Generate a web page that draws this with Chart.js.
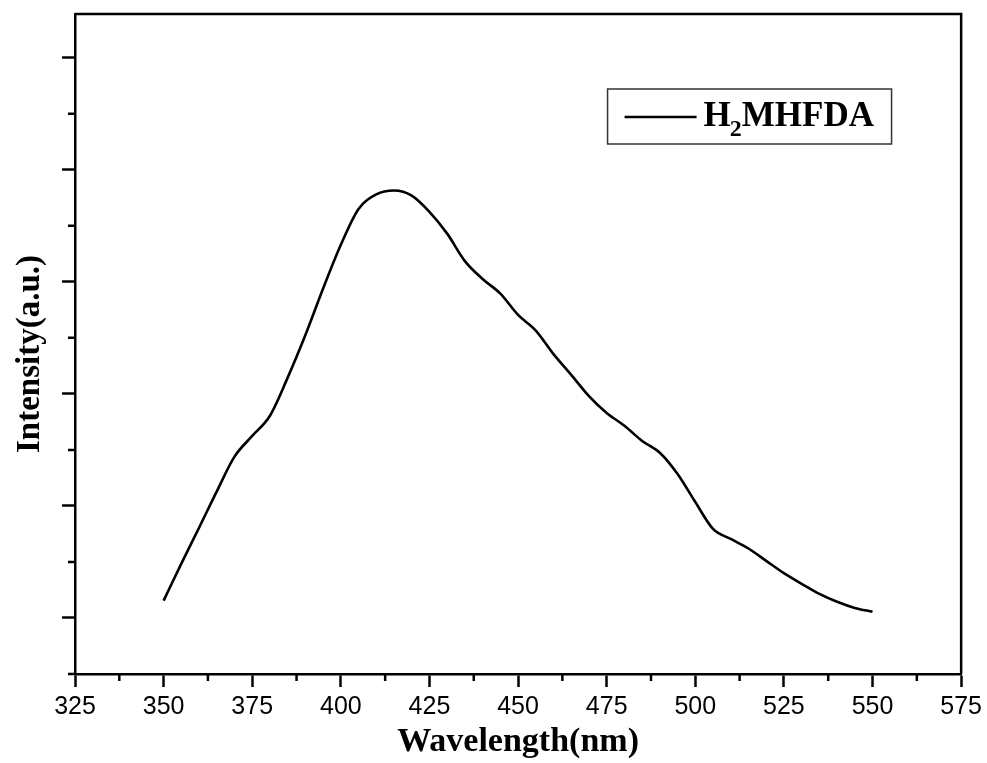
<!DOCTYPE html>
<html>
<head>
<meta charset="utf-8">
<script src="https://cdn.jsdelivr.net/npm/chart.js@4"></script>
<style>
  html, body { margin: 0; padding: 0; background: #fff; }
  #wrap { width: 987px; height: 763px; }
</style>
</head>
<body>
<div id="wrap"><canvas id="spectrum"></canvas></div>
<script>
// Dados do espectro
const wavelengths = [350, 355, 360, 365, 370, 375, 380, 385, 390, 395,
                     400, 405, 410, 415, 420, 425, 430, 435, 440, 445,
                     450, 455, 460, 465, 470, 475, 480, 485, 490, 495,
                     500, 505, 510, 515, 520, 525, 530, 535, 540, 545, 550];
const intensity = [1.31, 1.97, 2.61, 3.26, 3.88, 4.25, 4.61, 5.29, 6.05, 6.88,
                   7.66, 8.30, 8.56, 8.63, 8.54, 8.25, 7.86, 7.37, 7.05, 6.79,
                   6.41, 6.13, 5.71, 5.34, 4.96, 4.66, 4.43, 4.16, 3.95, 3.57,
                   3.07, 2.59, 2.41, 2.24, 2.02, 1.80, 1.61, 1.43, 1.29, 1.18, 1.11];
const xTickValues = [325, 350, 375, 400, 425, 450, 475, 500, 525, 550, 575];
const xMinorValues = [337.5, 362.5, 387.5, 412.5, 437.5, 462.5, 487.5, 512.5, 537.5, 562.5];
const yTickValues = [1, 3, 5, 7, 9, 11];
const yMinorValues = [0, 2, 4, 6, 8, 10];
const seriesName = { main: 'H', sub: '2', rest: 'MHFDA' };

const serif = '"Liberation Serif", "Times New Roman", serif';
const sans = '"Liberation Sans", Arial, sans-serif';

// Moldura + ticks menores + legenda + título do eixo y
const extrasPlugin = {
  id: 'extras',
  afterDraw(chart) {
    const { ctx, chartArea: a, scales } = chart;
    ctx.save();
    ctx.strokeStyle = '#000';
    ctx.lineWidth = 2.5;
    // moldura superior e direita
    ctx.beginPath();
    ctx.moveTo(a.left, a.top);
    ctx.lineTo(a.right, a.top);
    ctx.lineTo(a.right, a.bottom);
    ctx.stroke();

    // ticks menores
    ctx.beginPath();
    xMinorValues.forEach(v => {
      const px = scales.x.getPixelForValue(v);
      ctx.moveTo(px, a.bottom);
      ctx.lineTo(px, a.bottom + 7);
    });
    yMinorValues.forEach(v => {
      const py = scales.y.getPixelForValue(v);
      ctx.moveTo(a.left, py);
      ctx.lineTo(a.left - 7, py);
    });
    ctx.stroke();

    // título do eixo y (um pouco abaixo do centro, como no original)
    ctx.fillStyle = '#000';
    ctx.font = 'bold 33px ' + serif;
    ctx.textAlign = 'center';
    ctx.textBaseline = 'alphabetic';
    ctx.translate(39, (a.top + a.bottom) / 2 + 10);
    ctx.rotate(-Math.PI / 2);
    ctx.fillText('Intensity(a.u.)', 0, 0);
    ctx.setTransform(1, 0, 0, 1, 0, 0);

    // legenda
    const bx = a.left + (a.right - a.left) * 0.601;
    const by = a.top + 75;
    const bw = 284, bh = 55;
    ctx.textAlign = 'left';
    ctx.lineWidth = 1.5;
    ctx.strokeStyle = '#333';
    ctx.strokeRect(bx, by, bw, bh);
    const ds = chart.data.datasets[0];
    ctx.strokeStyle = ds.borderColor;
    ctx.lineWidth = ds.borderWidth;
    ctx.beginPath();
    ctx.moveTo(bx + 17, by + 28);
    ctx.lineTo(bx + 89, by + 28);
    ctx.stroke();
    let tx = bx + 96;
    const base = by + 37;
    ctx.font = 'bold 35px ' + serif;
    ctx.fillText(seriesName.main, tx, base);
    tx += ctx.measureText(seriesName.main).width;
    ctx.font = 'bold 24px ' + serif;
    ctx.fillText(seriesName.sub, tx - 1, base + 10);
    tx += ctx.measureText(seriesName.sub).width - 1;
    ctx.font = 'bold 35px ' + serif;
    ctx.fillText(seriesName.rest, tx, base);
    ctx.restore();
  }
};

const ctx = document.getElementById('spectrum').getContext('2d');
new Chart(ctx, {
  type: 'line',
  data: {
    datasets: [{
      label: 'H2MHFDA',
      data: wavelengths.map((w, i) => ({ x: w, y: intensity[i] })),
      borderColor: '#000',
      borderWidth: 2.6,
      pointRadius: 0,
      fill: false,
      cubicInterpolationMode: 'monotone'
    }]
  },
  options: {
    responsive: true,
    maintainAspectRatio: false,
    animation: false,
    layout: { padding: { top: 14, right: 25, left: 0, bottom: 0 } },
    plugins: {
      legend: { display: false },
      tooltip: { enabled: false }
    },
    scales: {
      x: {
        type: 'linear',
        min: 325,
        max: 575,
        afterFit: s => { s.height = 89; },
        afterBuildTicks: s => { s.ticks = xTickValues.map(v => ({ value: v })); },
        grid: { drawOnChartArea: false, tickLength: 13, tickWidth: 2.5, tickColor: '#000' },
        border: { display: true, color: '#000', width: 2.5 },
        ticks: { color: '#000', font: { family: sans, size: 25 }, padding: 5, maxRotation: 0, autoSkip: false },
        title: {
          display: true,
          text: 'Wavelength(nm)',
          color: '#000',
          font: { family: serif, size: 34, weight: 'bold' },
          padding: { top: 0, bottom: 0 }
        }
      },
      y: {
        type: 'linear',
        min: 0,
        max: 11.78,
        afterFit: s => { s.width = 75; },
        afterBuildTicks: s => { s.ticks = yTickValues.map(v => ({ value: v })); },
        grid: { drawOnChartArea: false, tickLength: 13, tickWidth: 2.5, tickColor: '#000' },
        border: { display: true, color: '#000', width: 2.5 },
        ticks: { display: false },
        title: { display: false }
      }
    }
  },
  plugins: [extrasPlugin]
});
</script>
</body>
</html>
